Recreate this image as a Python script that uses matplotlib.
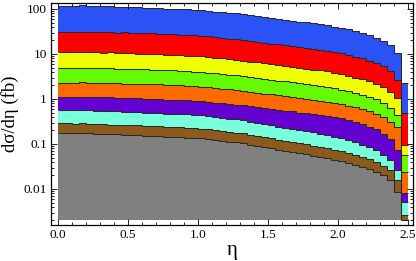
import numpy as np
import matplotlib
matplotlib.use("Agg")
import matplotlib.pyplot as plt
from matplotlib.ticker import LogLocator, MultipleLocator, NullFormatter, FixedLocator, FixedFormatter

# bin edges in eta (50 bins of width 0.05)
eta_edges = [round(0.05 * k, 2) for k in range(51)]

# cumulative (stacked) upper boundaries of each band, in fb
blue = [115, 115, 118, 120, 118, 115, 115, 118, 112, 112,
        110, 110, 107, 107, 105, 102, 102, 100, 98, 96,
        93.5, 91.3, 87.3, 85.2, 81.4, 79.6, 76.0, 72.6, 69.3, 66.1,
        63.3, 60.4, 57.6, 55.1, 52.6, 50.3, 48.0, 45.8, 43.7, 40.8,
        38.1, 35.5, 32.4, 29.6, 26.3, 23.0, 19.6, 15.5, 10.7, 2.3]
red = [31, 30.5, 31.5, 31, 31.5, 30.5, 31, 30.5, 30, 30.5,
       29.6, 29.4, 28.9, 29.2, 28.3, 27.6, 27.8, 27.0, 26.4, 25.8,
       25.2, 24.6, 23.5, 23.0, 21.9, 21.5, 20.5, 19.6, 18.7, 17.8,
       17.1, 16.3, 15.5, 14.8, 14.2, 13.5, 12.9, 12.3, 11.8, 11.0,
       10.3, 9.6, 8.7, 8.0, 7.1, 6.2, 5.3, 4.2, 2.6, 0.49]
yellow = [10.8, 10.9, 10.8, 11.0, 10.9, 10.8, 10.6, 10.9, 10.5, 10.6,
          10.3, 10.2, 10.1, 10.0, 9.8, 9.6, 9.5, 9.4, 9.2, 9.0,
          8.8, 8.6, 8.2, 8.0, 7.6, 7.5, 7.1, 6.8, 6.5, 6.2,
          5.9, 5.7, 5.4, 5.2, 4.9, 4.7, 4.5, 4.3, 4.1, 3.8,
          3.6, 3.3, 3.0, 2.8, 2.5, 2.15, 1.8, 1.45, 1.05, 0.095]
green = [4.9, 4.8, 4.95, 5.0, 4.9, 4.85, 4.8, 4.9, 4.75, 4.7,
         4.65, 4.6, 4.55, 4.5, 4.45, 4.35, 4.3, 4.25, 4.15, 4.05,
         3.95, 3.85, 3.7, 3.6, 3.45, 3.35, 3.2, 3.05, 2.95, 2.8,
         2.7, 2.55, 2.45, 2.35, 2.25, 2.15, 2.05, 1.95, 1.85, 1.75,
         1.62, 1.5, 1.38, 1.25, 1.12, 0.98, 0.82, 0.62, 0.45, 0.057]
orange = [2.3, 2.25, 2.3, 2.35, 2.3, 2.3, 2.25, 2.3, 2.25, 2.2,
          2.2, 2.15, 2.15, 2.1, 2.1, 2.05, 2.0, 2.0, 1.95, 1.9,
          1.87, 1.82, 1.75, 1.7, 1.63, 1.58, 1.52, 1.45, 1.39, 1.32,
          1.27, 1.21, 1.15, 1.1, 1.05, 1.0, 0.96, 0.92, 0.87, 0.82,
          0.76, 0.71, 0.65, 0.59, 0.53, 0.46, 0.39, 0.31, 0.24, 0.024]
purple = [1.1, 1.08, 1.1, 1.12, 1.1, 1.08, 1.08, 1.1, 1.06, 1.06,
          1.05, 1.04, 1.02, 1.01, 1.0, 0.97, 0.96, 0.95, 0.93, 0.9,
          0.88, 0.86, 0.82, 0.8, 0.77, 0.75, 0.72, 0.69, 0.66, 0.63,
          0.6, 0.58, 0.55, 0.53, 0.5, 0.48, 0.46, 0.44, 0.42, 0.4,
          0.37, 0.34, 0.31, 0.28, 0.24, 0.21, 0.17, 0.13, 0.072, 0.0081]
cyan = [0.57, 0.57, 0.557, 0.57, 0.557, 0.544, 0.544, 0.532, 0.532, 0.52,
        0.508, 0.508, 0.496, 0.496, 0.485, 0.474, 0.474, 0.463, 0.453, 0.442,
        0.433, 0.422, 0.404, 0.385, 0.368, 0.352, 0.336, 0.314, 0.299, 0.279,
        0.26, 0.243, 0.232, 0.217, 0.207, 0.193, 0.18, 0.168, 0.157, 0.146,
        0.137, 0.125, 0.11, 0.097, 0.085, 0.072, 0.058, 0.045, 0.027, 0.0051]
brown = [0.29, 0.29, 0.283, 0.29, 0.283, 0.277, 0.277, 0.271, 0.271, 0.264,
         0.258, 0.258, 0.253, 0.253, 0.247, 0.241, 0.241, 0.236, 0.23, 0.225,
         0.22, 0.215, 0.205, 0.196, 0.187, 0.179, 0.171, 0.16, 0.152, 0.142,
         0.133, 0.124, 0.118, 0.11, 0.105, 0.098, 0.092, 0.086, 0.08, 0.075,
         0.07, 0.064, 0.058, 0.052, 0.046, 0.039, 0.033, 0.027, 0.016, 0.0026]
gray = [0.175, 0.175, 0.171, 0.175, 0.171, 0.167, 0.167, 0.163, 0.163, 0.16,
        0.156, 0.156, 0.152, 0.152, 0.149, 0.146, 0.146, 0.142, 0.139, 0.136,
        0.133, 0.13, 0.124, 0.118, 0.113, 0.108, 0.103, 0.096, 0.092, 0.086,
        0.08, 0.075, 0.071, 0.067, 0.064, 0.059, 0.055, 0.052, 0.048, 0.045,
        0.042, 0.038, 0.035, 0.031, 0.028, 0.024, 0.02, 0.016, 0.0085, 0.0018]
floor_value = 0.002

bands = [gray, brown, cyan, purple, orange, green, yellow, red, blue]
band_colors = ["#808080", "#8c5a1c", "#78ffdc", "#6400d2", "#ff6a00",
               "#66fa00", "#f0ff00", "#ff0000", "#2a52f5"]

x_ticks = [0.0, 0.5, 1.0, 1.5, 2.0, 2.5]
x_tick_labels = ["0.0", "0.5", "1.0", "1.5", "2.0", "2.5"]
y_ticks = [0.01, 0.1, 1, 10, 100]
y_tick_labels = ["0.01", "0.1", "1", "10", "100"]

plt.rcParams["font.family"] = ["Liberation Serif", "DejaVu Serif"]

fig = plt.figure(figsize=(4.16, 2.61), dpi=100)
ax = fig.add_axes([0.1226, 0.138, 0.8702, 0.8505])

edges = np.array(eta_edges)
prev = np.full(len(gray), floor_value)
for vals, col in zip(bands, band_colors):
    v = np.array(vals)
    top = np.maximum(v, floor_value)
    ax.stairs(top, edges, baseline=prev, fill=True, color=col, lw=0)
    prev = top
for vals in bands:
    v = np.maximum(np.array(vals), floor_value)
    ax.stairs(v, edges, baseline=None, color="#2a2a2a", lw=0.75)

ax.set_yscale("log")
ax.set_xlim(-0.05, 2.536)
ax.set_ylim(10 ** -2.8, 10 ** 2.133)

ax.xaxis.set_major_locator(FixedLocator(x_ticks))
ax.xaxis.set_major_formatter(FixedFormatter(x_tick_labels))
ax.xaxis.set_minor_locator(MultipleLocator(0.1))
ax.yaxis.set_major_locator(FixedLocator(y_ticks))
ax.yaxis.set_major_formatter(FixedFormatter(y_tick_labels))
ax.yaxis.set_minor_locator(LogLocator(base=10, subs=np.arange(2, 10)))
ax.yaxis.set_minor_formatter(NullFormatter())

ax.tick_params(which="both", direction="in", top=True, right=True,
               labelsize=9.5, pad=3, width=0.6)
ax.tick_params(which="major", length=4)
ax.tick_params(which="minor", length=2)
for s in ax.spines.values():
    s.set_linewidth(0.9)

ax.set_xlabel("η", fontsize=15, labelpad=0)
ax.set_ylabel("dσ/dη (fb)", fontsize=13.5, labelpad=3)

fig.savefig("out.png", dpi=100)
